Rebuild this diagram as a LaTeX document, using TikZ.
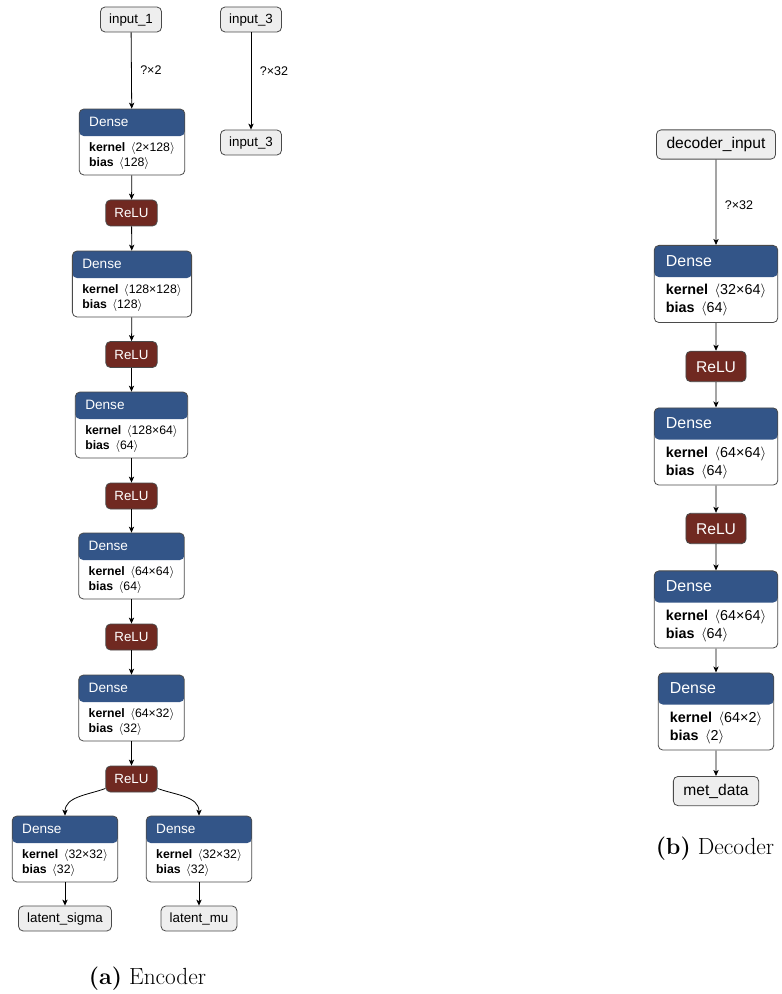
\documentclass[tikz,border=0pt]{standalone}
\usepackage{fontspec}
\setsansfont{Liberation Sans}
\usepackage{tikz}
\usetikzlibrary{
    arrows.meta,
    calc,
    positioning
}

\definecolor{denseblue}{HTML}{335588}
\definecolor{relured}{HTML}{702921}
\definecolor{iogray}{HTML}{EEEEEE}
\definecolor{rim}{HTML}{4A4A4A}

\tikzset{
    base/.style={draw=rim,line width=0.6pt,rounded corners=3.5pt,
        font=\sffamily\fontsize{10}{12}\selectfont},
    io/.style={base,fill=iogray,minimum height=18.75pt,inner xsep=6.5pt,
        text height=7.5pt,text depth=2pt},
    relu/.style={base,fill=relured,text=white,minimum height=19.5pt,
        inner xsep=6.5pt,text height=7.3pt,text depth=0pt},
    dense/.style={base,fill=white,align=left,inner xsep=7.5pt,inner ysep=4.15pt,
        font=\sffamily\fontsize{9.2}{11.25}\selectfont,
        path picture={\fill[denseblue] (path picture bounding box.north west) rectangle
            ($(path picture bounding box.north east)!0.41!(path picture bounding box.south east)$);}},
    lbl/.style={right,xshift=3pt,font=\sffamily\fontsize{9.4}{11}\selectfont},
    link/.style={-{Stealth[length=4.5pt,width=4pt,inset=1.2pt]},line width=0.6pt},
    caption/.style={font=\fontsize{17.5}{20}\selectfont}
}

% corps d'une couche Dense
\newcommand{\layer}[2]{\rule{0pt}{9.2pt}{\fontsize{10.2}{12}\selectfont\color{white}Dense}\\[7.2pt]
    \textbf{kernel}\, $\langle$#1$\rangle$\\ \textbf{bias}\, $\langle$#2$\rangle$}

\begin{document}
\begin{tikzpicture}[x=0.75pt,y=0.75pt]

\useasboundingbox (0,0) rectangle (781,-994);

% Encodeur
\node[io] (in1) at (131,-19.5) {input\_1};
\node[io] (in3) at (251,-19.5) {input\_3};
\node[io] (out3) at (251,-142.5) {input\_3};

\node[dense] (d1) at (132,-142) {\layer{2×128}{128}};
\node[relu] (r1) at (131.5,-213) {ReLU};
\node[dense] (d2) at (132,-284) {\layer{128×128}{128}};
\node[relu] (r2) at (131.5,-354.5) {ReLU};
\node[dense] (d3) at (131.5,-425) {\layer{128×64}{64}};
\node[relu] (r3) at (131.5,-496) {ReLU};
\node[dense] (d4) at (131.5,-566) {\layer{64×64}{64}};
\node[relu] (r4) at (131.5,-637) {ReLU};
\node[dense] (d5) at (131.5,-708) {\layer{64×32}{32}};
\node[relu] (r5) at (131.5,-779) {ReLU};
\node[dense] (dsig) at (65,-849) {\layer{32×32}{32}};
\node[dense] (dmu) at (199,-849) {\layer{32×32}{32}};
\node[io] (sigma) at (65,-918.5) {latent\_sigma};
\node[io] (mu) at (199,-918.5) {latent\_mu};

\draw[link] (in1) -- node[lbl] {?×2} (d1);
\draw[link] (in3) -- node[lbl,pos=0.4] {?×32} (out3);
\draw[link] (d1) -- (r1);
\draw[link] (r1) -- (d2);
\draw[link] (d2) -- (r2);
\draw[link] (r2) -- (d3);
\draw[link] (d3) -- (r3);
\draw[link] (r3) -- (d4);
\draw[link] (d4) -- (r4);
\draw[link] (r4) -- (d5);
\draw[link] (d5) -- (r5);
\draw[link] (r5.200) to[out=200,in=90] (dsig.north);
\draw[link] (r5.340) to[out=-20,in=90] (dmu.north);
\draw[link] (dsig) -- (sigma);
\draw[link] (dmu) -- (mu);

\node[caption] (capa) at (147.5,-979) {\textbf{(a)} Encoder};

% Decodeur
\begin{scope}[shift={(716,-144.5)},scale=1.17,transform shape]
    \node[io] (din) at (0,0) {decoder\_input};
    \node[dense] (e1) at (0,-119.2) {\layer{32×64}{64}};
    \node[relu] (q1) at (0,-189.7) {ReLU};
    \node[dense] (e2) at (0,-258.1) {\layer{64×64}{64}};
    \node[relu] (q2) at (0,-328.2) {ReLU};
    \node[dense] (e3) at (0,-397.4) {\layer{64×64}{64}};
    \node[dense] (e4) at (0,-484.6) {\layer{64×2}{2}};
    \node[io] (met) at (0,-552.6) {met\_data};
\end{scope}

\draw[link] (din) -- node[lbl,yshift=-2pt] {?×32} (e1);
\draw[link] (e1) -- (q1);
\draw[link] (q1) -- (e2);
\draw[link] (e2) -- (q2);
\draw[link] (q2) -- (e3);
\draw[link] (e3) -- (e4);
\draw[link] (e4) -- (met);

\node[caption] (capb) at (715,-849) {\textbf{(b)} Decoder};

\end{tikzpicture}
\end{document}
